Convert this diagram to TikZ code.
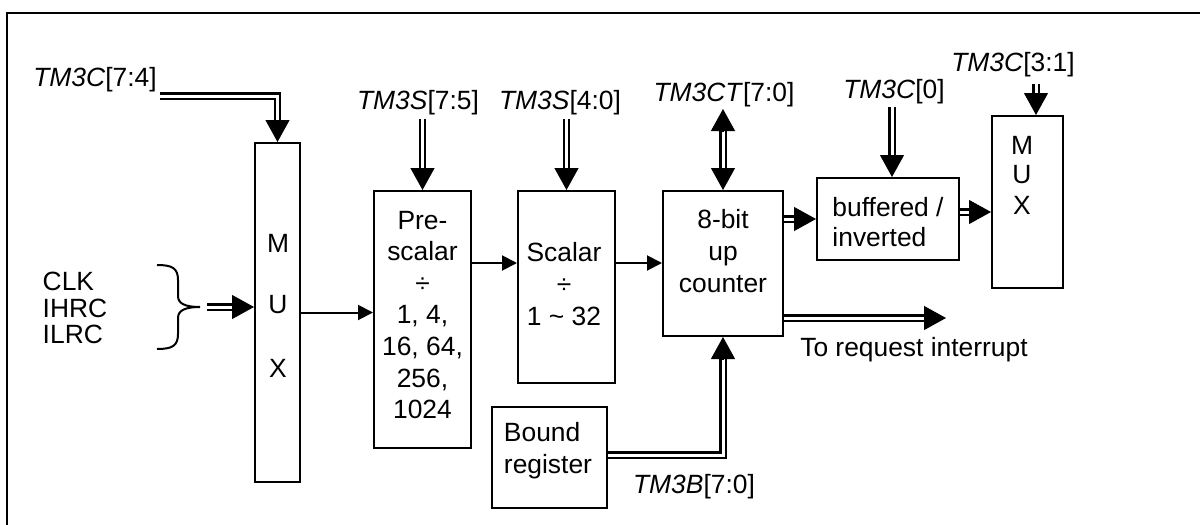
\documentclass[tikz,border=0pt]{standalone}
\usepackage{fontspec}
\setmainfont{Liberation Sans}
\usetikzlibrary{arrows.meta,calc}
\begin{document}
\begin{tikzpicture}[x=0.5pt,y=-0.5pt,
  every node/.style={font=\fontsize{13.2}{15.8}\selectfont, inner sep=0pt, text=black},
  box/.style={draw, line width=1pt, inner sep=0pt},
  bus/.style={double=white, double distance=1.5pt, line width=1.1pt},
  tip/.style={-{Triangle[length=11pt,width=12pt]}, line width=0.6pt},
  sarr/.style={line width=1pt, -{Triangle[length=7.5pt,width=7.5pt]}}]
\useasboundingbox (0,0) rectangle (1200,525);
% frame
\draw[line width=1.1pt] (7,530) -- (7,13) -- (1205,13);

% boxes
\node[box, minimum width=22.5pt, minimum height=169.5pt] (mux1) at (277.5,312.5) {};
\node[box, minimum width=48.5pt, minimum height=128.5pt] (pre) at (422.5,319.5) {};
\node[box, minimum width=48.5pt, minimum height=96pt] (sca) at (566.5,287) {};
\node[box, minimum width=60pt, minimum height=72.5pt] (cnt) at (723,263.5) {};
\node[box, minimum width=71pt, minimum height=41pt] (buf) at (888,219) {};
\node[box, minimum width=35.5pt, minimum height=86pt] (mux2) at (1027.5,202) {};
\node[box, minimum width=57.5pt, minimum height=50.5pt] (bnd) at (549.5,457.5) {};

% box texts
\node (m1) at (278,243) {M};
\node (u1) at (278,305) {U};
\node (x1) at (278,368) {X};
\node[align=center] (pret) at (422.5,315) {Pre-\\scalar\\÷\\1, 4,\\16, 64,\\256,\\1024};
\node[align=center] (scat) at (564,284) {Scalar\\÷\\1 \textasciitilde{} 32};
\node[align=center] (cntt) at (723,251) {8-bit\\up\\counter};
\node[align=left, font=\fontsize{13.2}{15}\selectfont] (buft) at (888,222) {buffered /\\inverted};
\node (m2) at (1022,145) {M};
\node (u2) at (1022,175) {U};
\node (x2) at (1022,205) {X};
\node[align=left, font=\fontsize{13.2}{16}\selectfont] (bndt) at (548,451) {Bound\\register};
\node[align=left, font=\fontsize{13.2}{13.3}\selectfont] (clk) at (75,308) {CLK\\IHRC\\ILRC};

% labels
\node (l74) at (95,80) {\textit{TM3C}[7:4]};
\node (l75) at (418,103) {\textit{TM3S}[7:5]};
\node (l40) at (560,103) {\textit{TM3S}[4:0]};
\node (lct) at (724,95) {\textit{TM3CT}[7:0]};
\node (l0) at (894,92) {\textit{TM3C}[0]};
\node (l31) at (1013,65) {\textit{TM3C}[3:1]};
\node (lb) at (694,487) {\textit{TM3B}[7:0]};
\node (lint) at (914,350) {To request interrupt};

% brace
\draw[line width=1pt] (157,265) .. controls (172,265) and (178,268) .. (178,280) -- (178,296)
  .. controls (178,304) and (186,307) .. (200,307)
  .. controls (186,307) and (178,310) .. (178,318) -- (178,334)
  .. controls (178,346) and (172,349) .. (157,349);

% TM3C[7:4] -> mux1
\coordinate (s74) at ($(l74.east)+(1.5pt,-8pt)$);
\draw[bus, shorten >=10pt] (s74) -| (mux1.north);
\draw[tip] ([yshift=11pt]mux1.north) -- (mux1.north);

% clocks -> mux1
\coordinate (bt) at (207,307);
\coordinate (m1in) at (bt -| mux1.west);
\draw[bus, shorten >=10pt] (bt) -- (m1in);
\draw[tip] ([xshift=-11pt]m1in) -- (m1in);

% mux1 -> pre -> sca -> cnt
\draw[sarr] (mux1.east) -- (mux1.east -| pre.west);
\coordinate (p1) at ([yshift=28.25pt]pre.east);
\draw[sarr] (p1) -- (p1 -| sca.west);
\draw[sarr] (p1 -| sca.east) -- (p1 -| cnt.west);

% TM3S[7:5] -> pre
\coordinate (s75) at ($(pre.north)+(0,35.5pt)$);
\draw[bus, shorten >=10pt] (s75) -- (pre.north);
\draw[tip] ([yshift=11pt]pre.north) -- (pre.north);

% TM3S[4:0] -> sca
\coordinate (s40) at ($(sca.north)+(0,35.5pt)$);
\draw[bus, shorten >=10pt] (s40) -- (sca.north);
\draw[tip] ([yshift=11pt]sca.north) -- (sca.north);

% TM3CT[7:0] <-> cnt
\coordinate (sct) at ($(cnt.north)+(0,40.5pt)$);
\draw[bus, shorten >=10pt, shorten <=10pt] (sct) -- (cnt.north);
\draw[tip] ([yshift=-11pt]sct) -- (sct);
\draw[tip] ([yshift=11pt]cnt.north) -- (cnt.north);

% TM3C[0] -> buf
\coordinate (e0) at ([xshift=2pt]buf.north);
\coordinate (s0) at ([yshift=35pt]e0);
\draw[bus, shorten >=10pt] (s0) -- (e0);
\draw[tip] ([yshift=11pt]e0) -- (e0);

% TM3C[3:1] -> mux2
\coordinate (e31) at ([xshift=4.25pt]mux2.north);
\coordinate (s31) at ([yshift=15.5pt]e31);
\draw[bus, shorten >=10pt] (s31) -- (e31);
\draw[tip] ([yshift=11pt]e31) -- (e31);

% cnt -> buf
\draw[bus, shorten >=10pt] (buf.west -| cnt.east) -- (buf.west);
\draw[tip] ([xshift=-11pt]buf.west) -- (buf.west);

% buf -> mux2
\coordinate (b2) at ([yshift=3.5pt]buf.east);
\coordinate (b2e) at (b2 -| mux2.west);
\draw[bus, shorten >=10pt] (b2) -- (b2e);
\draw[tip] ([xshift=-11pt]b2e) -- (b2e);

% cnt -> interrupt
\coordinate (c2) at ([yshift=-27.25pt]cnt.east);
\coordinate (ie) at ([xshift=81pt]c2);
\draw[bus, shorten >=10pt] (c2) -- (ie);
\draw[tip] ([xshift=-11pt]ie) -- (ie);

% bound -> cnt
\coordinate (bo) at ([yshift=1.25pt]bnd.east);
\draw[bus, shorten >=10pt] (bo) -| (cnt.south);
\draw[tip] ([yshift=-11pt]cnt.south) -- (cnt.south);
\end{tikzpicture}
\end{document}
